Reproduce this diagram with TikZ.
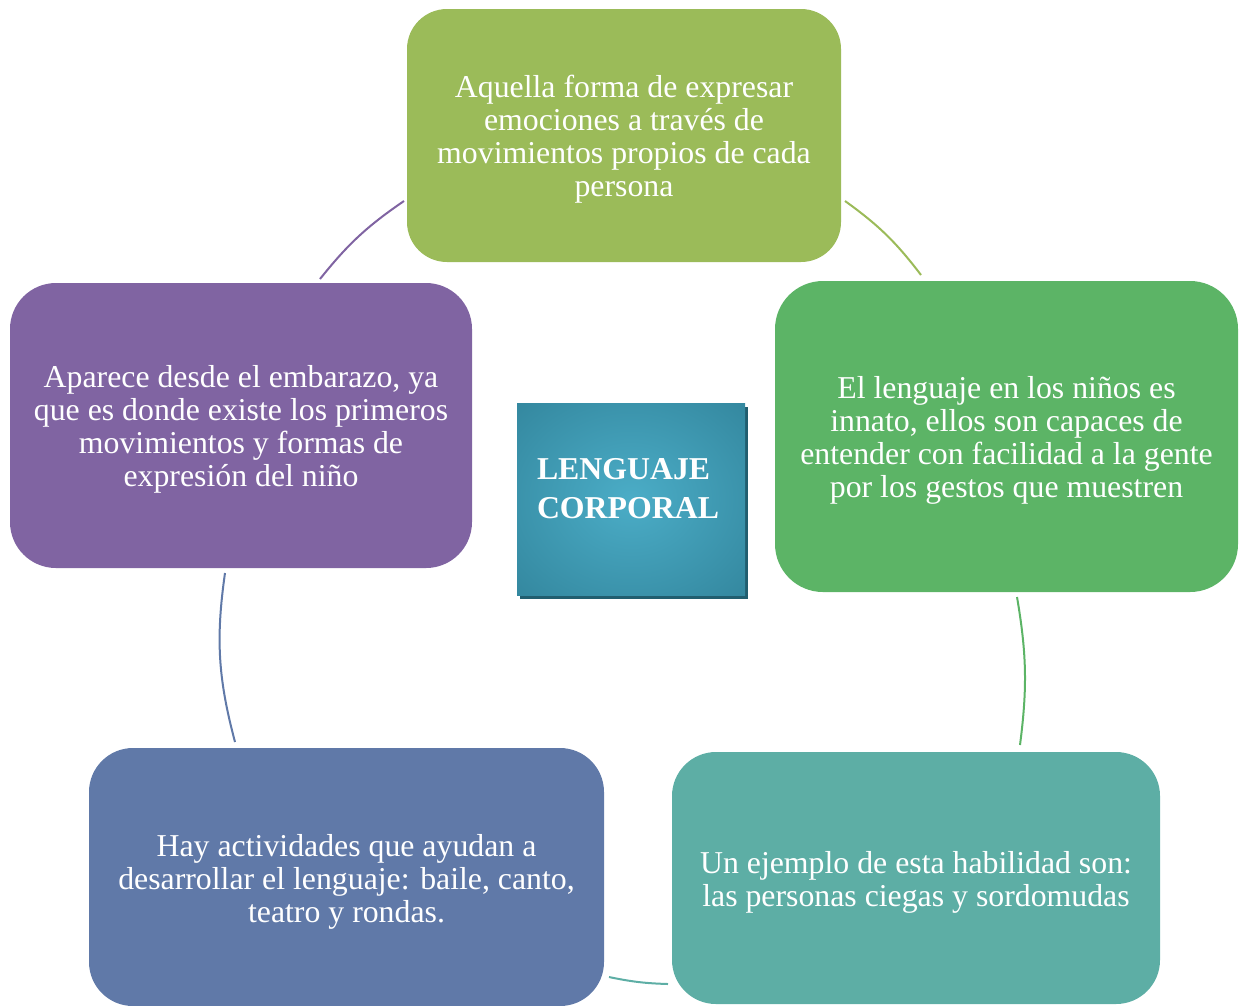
\documentclass[tikz,border=0pt]{standalone}
\usepackage{fontspec}
\setmainfont{Liberation Serif}
\usetikzlibrary{shadows}
\definecolor{cTop}{HTML}{9BBB59}
\definecolor{cRight}{HTML}{5CB466}
\definecolor{cBR}{HTML}{5DAEA5}
\definecolor{cBL}{HTML}{6079A8}
\definecolor{cLeft}{HTML}{8064A2}
\definecolor{cIn}{HTML}{4BADC7}
\definecolor{cOut}{HTML}{31839A}
\definecolor{cShadow}{HTML}{215E6F}
\pgfdeclareradialshading{softglow}{\pgfpointorigin}{color(0bp)=(cIn); color(40bp)=(cOut); color(50bp)=(cOut)}
\begin{document}
\begin{tikzpicture}[x=1pt,y=-1pt,
  card/.style={rounded corners=#1, inner sep=0pt},
  cardtext/.style={inner sep=0pt, text=white, align=center,
    font=\fontsize{31.8pt}{33pt}\selectfont, yshift=-4pt},
  ring/.style={line width=2pt},
  corebox/.style={inner sep=0pt, minimum width=228pt, minimum height=192pt,
    shading=softglow,
    drop shadow={shadow xshift=3pt, shadow yshift=-4pt, fill=cShadow, opacity=1}},
  coretext/.style={inner sep=0pt, text=white, align=left,
    font=\bfseries\fontsize{31.8pt}{39pt}\selectfont}]
\useasboundingbox (0,0) rectangle (1246,1005);

% boxes
\node[card=40, fill=cTop, minimum width=434pt, minimum height=253pt,
  label={[cardtext]center:{Aquella forma de expresar\\emociones a través de\\movimientos propios de cada\\persona}}] (top) at (624,135.5) {};
\node[card=48, fill=cRight, minimum width=463pt, minimum height=311pt,
  label={[cardtext]center:{El lenguaje en los niños es\\innato, ellos son capaces de\\entender con facilidad a la gente\\por los gestos que muestren}}] (right) at (1006.5,436.5) {};
\node[card=44, fill=cBR, minimum width=488pt, minimum height=252pt,
  label={[cardtext]center:{Un ejemplo de esta habilidad son:\\las personas ciegas y sordomudas}}] (bright) at (916,878) {};
\node[card=44, fill=cBL, minimum width=515pt, minimum height=258pt,
  label={[cardtext, yshift=-1pt]center:{Hay actividades que ayudan a\\desarrollar el lenguaje: baile, canto,\\teatro y rondas.}}] (bleft) at (346.5,877) {};
\node[card=46, fill=cLeft, minimum width=462pt, minimum height=285pt,
  label={[cardtext]center:{Aparece desde el embarazo, ya\\que es donde existe los primeros\\movimientos y formas de\\expresión del niño}}] (left) at (241,425.5) {};

% centre
\node[corebox] (core) at (631,499) {};
\node[coretext] (coretxt) at (628,488.5) {LENGUAJE\\CORPORAL};

% arc end points
\coordinate (a1s) at (845,201);  \coordinate (a1e) at (921,275);
\coordinate (a2s) at (1017,597); \coordinate (a2e) at (1020,745);
\coordinate (a3s) at (668,984);  \coordinate (a3e) at (609,977);
\coordinate (a4s) at (235,742);  \coordinate (a4e) at (225,573);
\coordinate (a5s) at (320,279);  \coordinate (a5e) at (404,201);

\draw[ring, draw=cTop]   (a1s) to[bend left=8.5] (a1e);
\draw[ring, draw=cRight] (a2s) to[bend left=8.5] (a2e);
\draw[ring, draw=cBR]    (a3s) to[bend left=5]   (a3e);
\draw[ring, draw=cBL]    (a4s) to[bend left=11.5] (a4e);
\draw[ring, draw=cLeft]  (a5s) to[bend left=8.5] (a5e);
\end{tikzpicture}
\end{document}
